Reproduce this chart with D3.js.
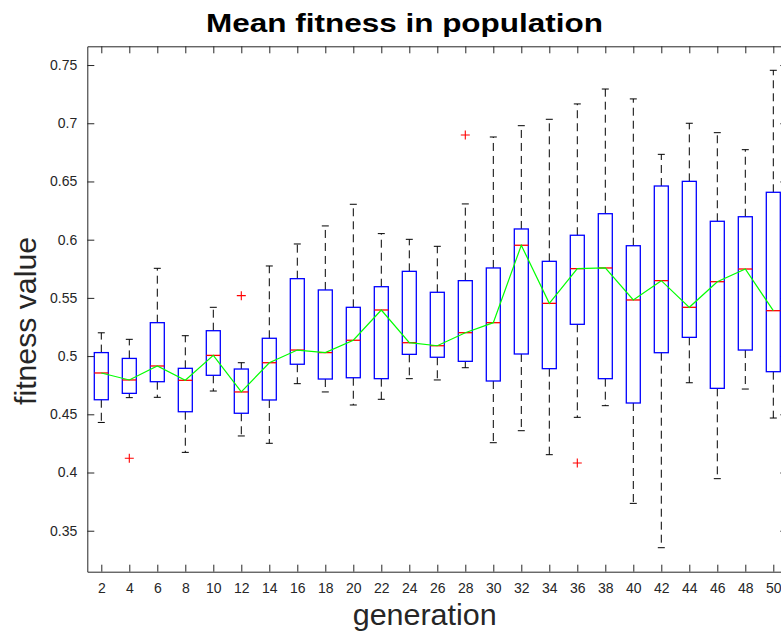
<!DOCTYPE html>
<html>
<head>
<meta charset="utf-8">
<script src="https://cdn.jsdelivr.net/npm/d3@7"></script>
<style>
  body { margin: 0; background: #fff; }
  text { font-family: "Liberation Sans", Arial, Helvetica, sans-serif; fill: #262626; }
</style>
</head>
<body>
<script>
const generations = [2, 4, 6, 8, 10, 12, 14, 16, 18, 20, 22, 24, 26, 28, 30, 32, 34, 36, 38, 40, 42, 44, 46, 48, 50];
const lowerWhisker = [0.443, 0.4643, 0.4646, 0.4173, 0.470, 0.4314, 0.4251, 0.4763, 0.4692, 0.458, 0.4629, 0.4806, 0.4795, 0.490, 0.4256, 0.4359, 0.4153, 0.4474, 0.4574, 0.3735, 0.3354, 0.4771, 0.3947, 0.4717, 0.4468];
const q1 = [0.4625, 0.468, 0.478, 0.4522, 0.4835, 0.4509, 0.4623, 0.493, 0.4803, 0.4814, 0.4806, 0.5015, 0.499, 0.4955, 0.4786, 0.5018, 0.4892, 0.5273, 0.4806, 0.4597, 0.5029, 0.5161, 0.4723, 0.5052, 0.4866];
const medians = [0.4855, 0.4795, 0.4915, 0.4792, 0.5006, 0.4692, 0.4943, 0.5052, 0.503, 0.5136, 0.5396, 0.5115, 0.5089, 0.5201, 0.5287, 0.5952, 0.5453, 0.5751, 0.5757, 0.5482, 0.5648, 0.5419, 0.5639, 0.5748, 0.539];
const q3 = [0.503, 0.498, 0.5287, 0.4895, 0.5218, 0.4889, 0.5153, 0.5665, 0.5568, 0.5419, 0.5596, 0.5728, 0.5548, 0.5648, 0.5757, 0.6092, 0.5814, 0.6038, 0.6223, 0.5948, 0.6461, 0.6501, 0.6158, 0.6197, 0.6407];
const upperWhisker = [0.520, 0.5144, 0.5754, 0.5175, 0.5419, 0.4943, 0.5774, 0.5963, 0.6118, 0.6304, 0.6052, 0.6003, 0.5943, 0.6307, 0.6882, 0.6979, 0.7034, 0.7166, 0.7294, 0.7209, 0.6733, 0.700, 0.6919, 0.6773, 0.7455];
// green line (means) sits on the medians in the picture
const means = [0.4855, 0.4795, 0.4915, 0.4792, 0.5006, 0.4692, 0.4943, 0.5052, 0.503, 0.5136, 0.5396, 0.5115, 0.5089, 0.5201, 0.5287, 0.5952, 0.5453, 0.5751, 0.5757, 0.5482, 0.5648, 0.5419, 0.5639, 0.5748, 0.539];
const outlierGen = [4, 12, 28, 36];
const outlierVal = [0.4122, 0.5519, 0.6899, 0.4082];
const yTicks = [0.35, 0.4, 0.45, 0.5, 0.55, 0.6, 0.65, 0.7, 0.75];

const width = 781, height = 635;
const margin = { top: 46.3, right: -6.3, bottom: 63.3, left: 87.3 };
const plotW = width - margin.left - margin.right;
const plotH = height - margin.top - margin.bottom;

const svg = d3.select("body").append("svg")
  .attr("width", width)
  .attr("height", height);

const x = d3.scaleLinear().domain([1, 51]).range([margin.left, margin.left + plotW]);
const y = d3.scaleLinear().domain([0.3148, 0.7661]).range([margin.top + plotH, margin.top]);

const boxes = generations.map((g, i) => ({
  g, lo: lowerWhisker[i], q1: q1[i], med: medians[i], q3: q3[i], hi: upperWhisker[i], mean: means[i]
}));

const fmt = (d) => String(+d.toFixed(2));

// axes (ticks inward on all four sides)
const axisG = svg.append("g");
axisG.append("g")
  .attr("transform", `translate(0,${margin.top + plotH})`)
  .call(d3.axisBottom(x).tickValues(generations).tickSize(-7).tickPadding(11).tickSizeOuter(0).tickFormat(d3.format("d")));
axisG.append("g")
  .attr("transform", `translate(0,${margin.top})`)
  .call(d3.axisTop(x).tickValues(generations).tickSize(-7).tickSizeOuter(0).tickFormat(""));
axisG.append("g")
  .attr("transform", `translate(${margin.left},0)`)
  .call(d3.axisLeft(y).tickValues(yTicks).tickSize(-7).tickPadding(10).tickSizeOuter(0).tickFormat(fmt));
axisG.append("g")
  .attr("transform", `translate(${margin.left + plotW},0)`)
  .call(d3.axisRight(y).tickValues(yTicks).tickSize(-7).tickSizeOuter(0).tickFormat(""));

axisG.selectAll(".domain, .tick line").attr("stroke", "#262626").attr("stroke-width", 1);
axisG.selectAll(".tick text").attr("font-size", 14).attr("fill", "#262626")
  .attr("font-family", "Liberation Sans, Arial, sans-serif");

const plot = svg.append("g");
const halfBox = x(1.5) - x(1);
const halfCap = halfBox / 2;

// whiskers
plot.selectAll(".wlo").data(boxes).join("line")
  .attr("x1", d => x(d.g)).attr("x2", d => x(d.g))
  .attr("y1", d => y(d.q1)).attr("y2", d => y(d.lo))
  .attr("stroke", "#000").attr("stroke-dasharray", "8,5");
plot.selectAll(".whi").data(boxes).join("line")
  .attr("x1", d => x(d.g)).attr("x2", d => x(d.g))
  .attr("y1", d => y(d.q3)).attr("y2", d => y(d.hi))
  .attr("stroke", "#000").attr("stroke-dasharray", "8,5");
["lo", "hi"].forEach(k => {
  plot.append("g").selectAll("line").data(boxes).join("line")
    .attr("x1", d => x(d.g) - halfCap).attr("x2", d => x(d.g) + halfCap)
    .attr("y1", d => y(d[k])).attr("y2", d => y(d[k]))
    .attr("stroke", "#000").attr("stroke-width", 1);
});

// boxes
plot.append("g").selectAll("rect").data(boxes).join("rect")
  .attr("x", d => x(d.g) - halfBox)
  .attr("width", halfBox * 2)
  .attr("y", d => y(d.q3))
  .attr("height", d => y(d.q1) - y(d.q3))
  .attr("fill", "none")
  .attr("stroke", "#0000ff")
  .attr("stroke-width", 1.3);

// medians
plot.append("g").selectAll("line").data(boxes).join("line")
  .attr("x1", d => x(d.g) - halfBox).attr("x2", d => x(d.g) + halfBox)
  .attr("y1", d => y(d.med)).attr("y2", d => y(d.med))
  .attr("stroke", "#ff0000").attr("stroke-width", 1.3);

// mean line
plot.append("path")
  .datum(boxes)
  .attr("fill", "none")
  .attr("stroke", "#00ff00")
  .attr("stroke-width", 1.2)
  .attr("d", d3.line().x(d => x(d.g)).y(d => y(d.mean)));

// outliers
const outs = outlierGen.map((g, i) => ({ g, v: outlierVal[i] }));
plot.append("g").selectAll("path").data(outs).join("path")
  .attr("d", d => {
    const cx = x(d.g), cy = y(d.v), r = 4.5;
    return `M${cx - r},${cy}H${cx + r}M${cx},${cy - r}V${cy + r}`;
  })
  .attr("stroke", "#ff0000")
  .attr("stroke-width", 1.1)
  .attr("fill", "none");

// labels (stretched a bit: the original glyphs run wider than Liberation)
svg.append("text")
  .attr("x", 404.5).attr("y", 32)
  .attr("text-anchor", "middle")
  .attr("font-size", 25).attr("font-weight", "bold")
  .attr("textLength", 397).attr("lengthAdjust", "spacingAndGlyphs")
  .style("fill", "#000")
  .text("Mean fitness in population");

svg.append("text")
  .attr("x", 424.7).attr("y", 625)
  .attr("text-anchor", "middle")
  .attr("font-size", 29)
  .attr("textLength", 144).attr("lengthAdjust", "spacingAndGlyphs")
  .text("generation");

svg.append("text")
  .attr("transform", "translate(36,321) rotate(-90)")
  .attr("text-anchor", "middle")
  .attr("font-size", 29)
  .attr("textLength", 168).attr("lengthAdjust", "spacingAndGlyphs")
  .text("fitness value");
</script>
</body>
</html>
